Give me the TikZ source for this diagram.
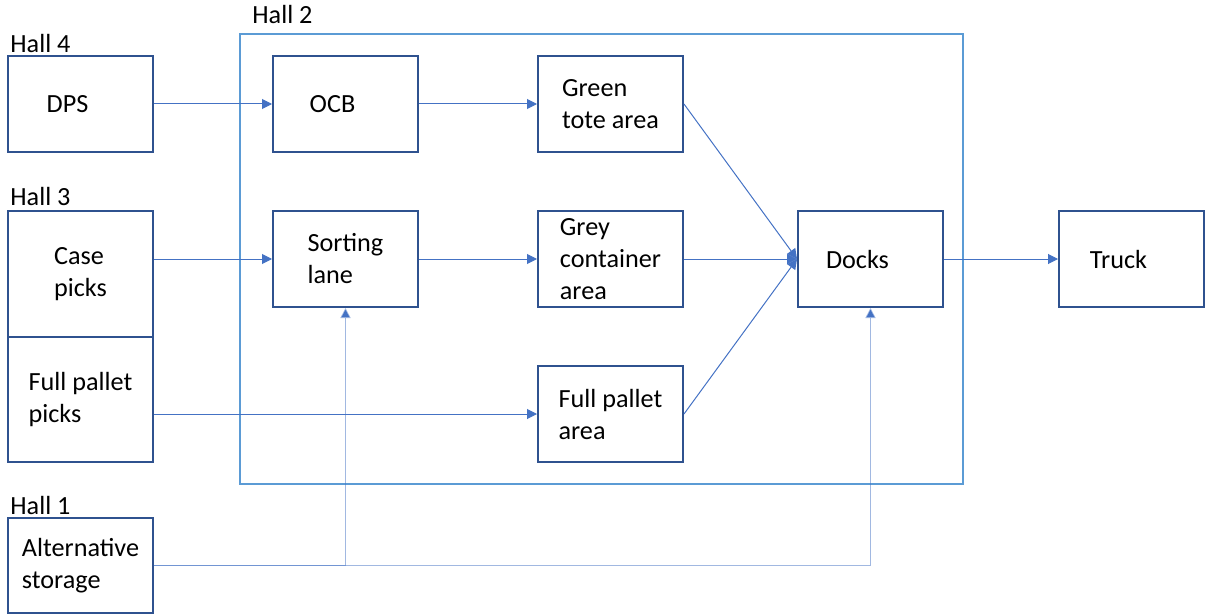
\documentclass[tikz,border=0pt]{standalone}
\usepackage{fontspec}
\setmainfont{Carlito}
\usetikzlibrary{positioning, arrows.meta}
\definecolor{boxblue}{HTML}{2F528F}
\definecolor{hallblue}{HTML}{5B9BD5}
\definecolor{flowblue}{HTML}{4472C4}
\newcommand{\gap}{\hspace*{13pt}}
\tikzset {
    x=0.5pt,
    y=-0.5pt,
    node distance=132.5pt,
    >={Triangle[length=5pt,width=5pt]},
    box/.style={draw=boxblue, line width=1pt, fill=white, minimum width=72.5pt,
        minimum height=48pt, align=left, inner sep=0pt,
        font=\fontsize{13.1}{16}\selectfont},
    hall/.style={draw=hallblue, line width=1pt},
    tag/.style={anchor=west, inner sep=0pt, font=\fontsize{13.1}{16}\selectfont},
    flow/.style={->, draw=flowblue, line width=0.5pt},
    late/.style={flow, line width=0.8pt, draw opacity=0.5}
}

\begin{document}
\begin{tikzpicture}
    \useasboundingbox (0,0) rectangle (1205,615);

    % hall 2 frame
    \draw[hall] (240,34) rectangle (963,484);
    \node[tag] (h2) at (252,15) {Hall 2};
    \node[tag] (h4) at (10,44) {Hall 4};
    \node[tag] (h3) at (10,197) {Hall 3};
    \node[tag] (h1) at (10,505) {Hall 1};

    \node[box] (dps) at (80.5,104) {DPS\gap};
    \node[box, right of=dps] (ocb) {OCB\gap};
    \node[box, right of=ocb] (green) {Green\\tote area};
    \node[box, node distance=77.5pt, below of=ocb] (sort) {Sorting\\lane};
    \node[box, right of=sort] (grey) {Grey\\container\\area};
    \node[box, node distance=77.5pt, below of=grey] (fpa) {Full pallet\\area};
    \node[box, node distance=130pt, right of=grey] (docks) {Docks\gap};
    \node[box, node distance=130.5pt, right of=docks] (truck) {Truck\gap};

    \node[box, minimum height=63pt] (case) at (80.5,274) {Case\\picks};
    \node[box, minimum height=62.5pt, below=-1pt of case] (fpp) {Full pallet\\picks};
    \node[box, minimum height=47.5pt] (alt) at (80.5,565.5) {Alternative\\storage};

    \draw[flow] (dps) -- (ocb);
    \draw[flow] (ocb) -- (green);
    \draw[flow] (sort.west -| case.east) -- (sort.west);
    \draw[flow] (sort) -- (grey);
    \draw[flow] (green.east) -- (docks.west);
    \draw[flow] (grey) -- (docks);
    \draw[flow] (fpa.east) -- (docks.west);
    \draw[flow] (docks) -- (truck);
    \draw[flow] (fpa.west -| fpp.east) -- (fpa.west);
    \draw[late] (alt.east) -| (sort.south);
    \draw[late] (alt.east) -| (docks.south);
\end{tikzpicture}
\end{document}
